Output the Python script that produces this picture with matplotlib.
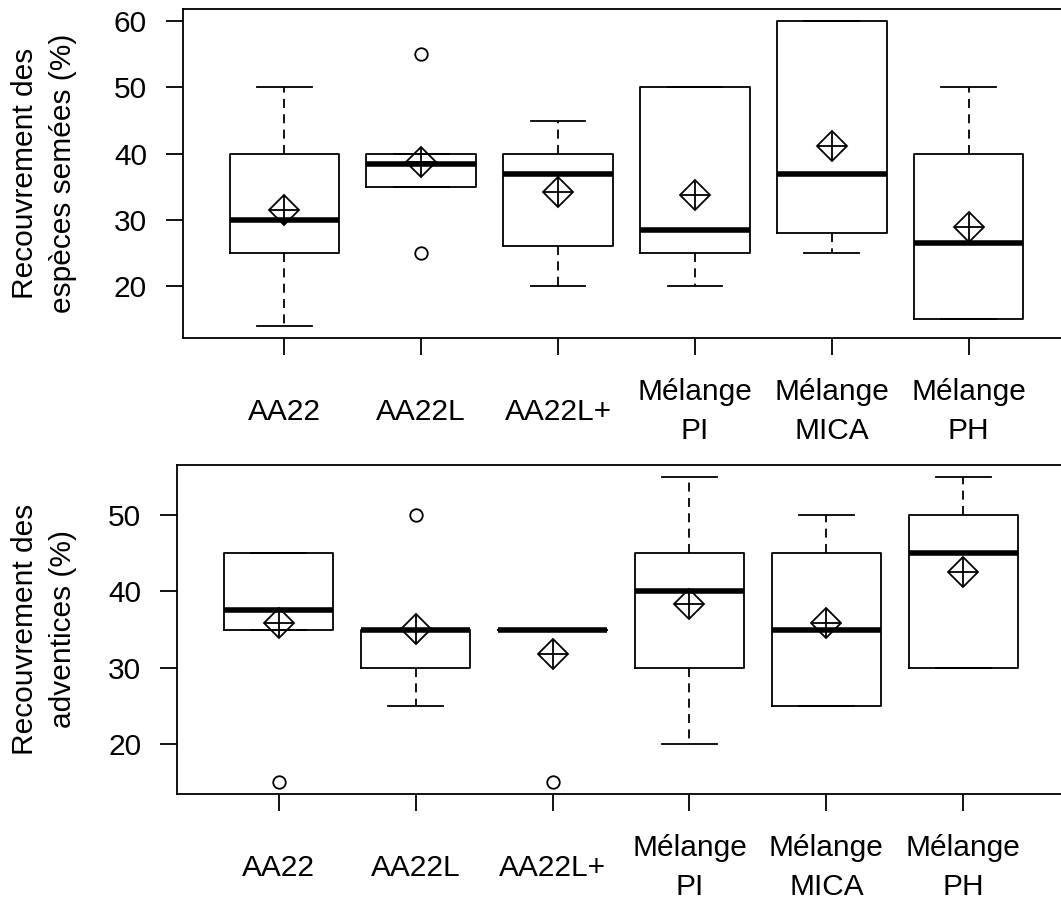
import matplotlib
matplotlib.use('Agg')
import matplotlib.pyplot as plt

plt.rcParams['font.family'] = ['Liberation Sans', 'DejaVu Sans']

labels = ['AA22', 'AA22L', 'AA22L+', 'Mélange\nPI', 'Mélange\nMICA', 'Mélange\nPH']

# recouvrement des especes semees
sown_med = [30, 38.5, 37, 28.5, 37, 26.5]
sown_q1 = [25, 35, 26, 25, 28, 15]
sown_q3 = [40, 40, 40, 50, 60, 40]
sown_lo = [14, 35, 20, 20, 25, 15]
sown_hi = [50, 40, 45, 50, 60, 50]
sown_mean = [31.5, 38.7, 34.2, 33.7, 41.2, 28.9]
sown_out = [[], [55, 25], [], [], [], []]

# recouvrement des adventices
weed_med = [37.5, 35, 35, 40, 35, 45]
weed_q1 = [35, 30, 35, 30, 25, 30]
weed_q3 = [45, 35, 35, 45, 45, 50]
weed_lo = [35, 25, 35, 20, 25, 30]
weed_hi = [45, 35, 35, 55, 50, 55]
weed_mean = [35.9, 35.1, 31.8, 38.4, 35.9, 42.6]
weed_out = [[15], [50], [15], [], [], []]

LW = 1.3
FS = 21.5


def make_stats(med, q1, q3, lo, hi, mean, out):
    stats = []
    for i in range(len(med)):
        stats.append({'med': med[i], 'q1': q1[i], 'q3': q3[i],
                      'whislo': lo[i], 'whishi': hi[i],
                      'mean': mean[i], 'fliers': out[i]})
    return stats


def draw_panel(ax, stats, mean, yticks, ylabel, label_x):
    pos = list(range(1, len(stats) + 1))
    ax.bxp(stats, positions=pos, widths=0.8, capwidths=0.4,
           showmeans=True, showfliers=True,
           boxprops=dict(color='black', linewidth=LW),
           medianprops=dict(color='black', linewidth=4, solid_capstyle='butt'),
           whiskerprops=dict(color='black', linewidth=LW, linestyle=(0, (5, 3.5))),
           capprops=dict(color='black', linewidth=LW),
           flierprops=dict(marker='o', markerfacecolor='none', markeredgecolor='black',
                           markersize=9, markeredgewidth=LW),
           meanprops=dict(marker='D', markerfacecolor='none', markeredgecolor='black',
                          markersize=15.5, markeredgewidth=LW))
    ax.plot(pos, mean, linestyle='none', marker='+', markersize=22,
            markeredgewidth=LW, color='black')
    ax.set_xlim(0.26, 6.74)
    lo = min(min(s['whislo'] for s in stats), min(min(s['fliers'], default=99) for s in stats))
    hi = max(max(s['whishi'] for s in stats), max(max(s['fliers'], default=0) for s in stats))
    pad = (hi - lo) * 0.04
    ax.set_ylim(lo - pad, hi + pad)
    ax.set_yticks(yticks)
    ax.set_xticks(pos)
    ax.set_xticklabels(labels, va='center', linespacing=1.5)
    ax.tick_params(axis='both', direction='out', length=12, width=LW, labelsize=FS)
    ax.tick_params(axis='x', pad=41)
    ax.tick_params(axis='y', pad=14)
    for sp in ax.spines.values():
        sp.set_linewidth(LW)
    ax.set_ylabel(ylabel, fontsize=FS, va='center', linespacing=1.45)
    ax.yaxis.set_label_coords(label_x, 0.5)


fig = plt.figure(figsize=(10.61, 9.02), dpi=100)
ax1 = fig.add_axes([183 / 1061, 1 - 338 / 902, 887 / 1061, 329 / 902])
ax2 = fig.add_axes([177.3 / 1061, 1 - 794 / 902, 887.4 / 1061, 329 / 902])

draw_panel(ax1, make_stats(sown_med, sown_q1, sown_q3, sown_lo, sown_hi, sown_mean, sown_out),
           sown_mean, [20, 30, 40, 50, 60], 'Recouvrement des\nespèces semées (%)', (44 - 183) / 887)
draw_panel(ax2, make_stats(weed_med, weed_q1, weed_q3, weed_lo, weed_hi, weed_mean, weed_out),
           weed_mean, [20, 30, 40, 50], 'Recouvrement des\nadventices (%)', (44 - 177.3) / 887.4)

fig.savefig('out.png', dpi=100)
